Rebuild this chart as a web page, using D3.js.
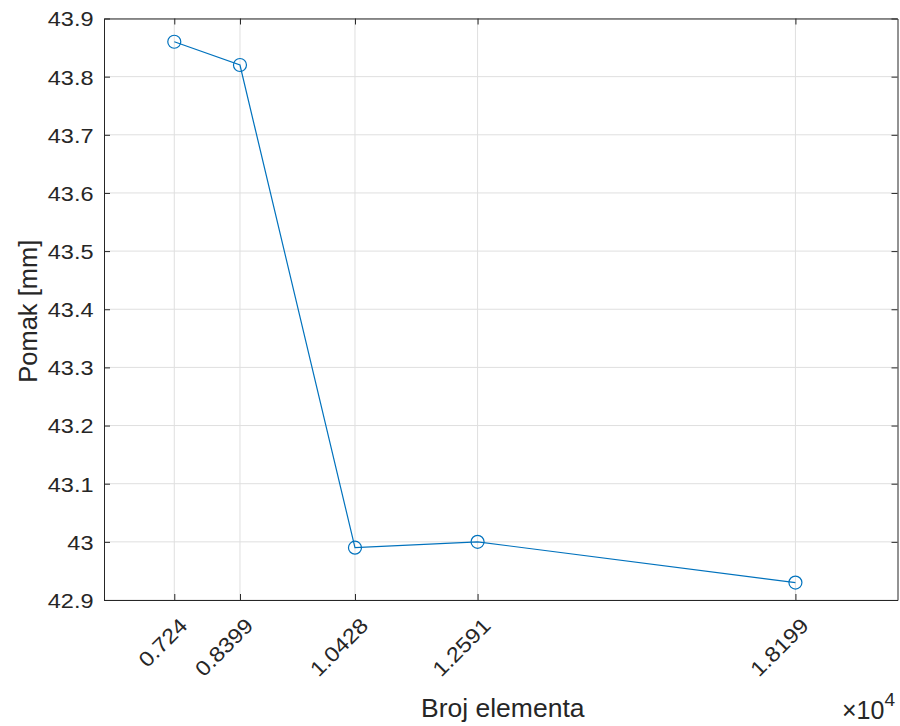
<!DOCTYPE html>
<html>
<head>
<meta charset="utf-8">
<script src="https://cdn.jsdelivr.net/npm/d3@7"></script>
<style>
  body { margin: 0; background: #fff; }
  text { font-family: "Liberation Sans", Arial, sans-serif; fill: #262626; }
</style>
</head>
<body>
<div id="chart"></div>
<script>
// element counts (x 10^4) and displacement
var brojElementa = [0.724, 0.8399, 1.0428, 1.2591, 1.8199];
var pomak = [43.86, 43.82, 42.99, 43.00, 42.93];
var yTicks = [42.9, 43, 43.1, 43.2, 43.3, 43.4, 43.5, 43.6, 43.7, 43.8, 43.9];

var width = 900, height = 726;
var margin = { top: 18.5, right: 2.5, bottom: 126, left: 104 };
var iw = width - margin.left - margin.right;
var ih = height - margin.top - margin.bottom;
var stretch = 1.12; // matlab text renders a bit wider

var svg = d3.select("#chart").append("svg")
  .attr("width", width)
  .attr("height", height);

var g = svg.append("g")
  .attr("transform", "translate(" + margin.left + "," + margin.top + ")");

var x = d3.scaleLinear().domain([0.6, 2.0]).range([0, iw]);
var y = d3.scaleLinear().domain([42.9, 43.9]).range([ih, 0]);

// grid
g.append("g").selectAll("line").data(brojElementa).enter().append("line")
  .attr("x1", d => x(d)).attr("x2", d => x(d))
  .attr("y1", 0).attr("y2", ih)
  .attr("stroke", "#dfdfdf").attr("stroke-width", 1);
g.append("g").selectAll("line").data(yTicks).enter().append("line")
  .attr("x1", 0).attr("x2", iw)
  .attr("y1", d => y(d)).attr("y2", d => y(d))
  .attr("stroke", "#dfdfdf").attr("stroke-width", 1);

// axes
var xAxis = g.append("g")
  .attr("transform", "translate(0," + ih + ")")
  .call(d3.axisBottom(x).tickValues(brojElementa).tickSizeInner(-6).tickSizeOuter(0).tickFormat(d => String(d)));
var xTop = g.append("g")
  .call(d3.axisTop(x).tickValues(brojElementa).tickSizeInner(-6).tickSizeOuter(0).tickFormat(""));
var yAxis = g.append("g")
  .call(d3.axisLeft(y).tickValues(yTicks).tickSizeInner(-6).tickSizeOuter(0).tickFormat(d => d3.format("~g")(d)));
var yRight = g.append("g")
  .attr("transform", "translate(" + iw + ",0)")
  .call(d3.axisRight(y).tickValues(yTicks).tickSizeInner(-6).tickSizeOuter(0).tickFormat(""));

[xAxis, xTop, yAxis, yRight].forEach(function (a) {
  a.select(".domain").attr("stroke", "#262626").attr("stroke-width", 1);
  a.selectAll(".tick line").attr("stroke", "#262626");
});

yAxis.selectAll("text")
  .attr("x", 0)
  .attr("dy", "0.35em")
  .attr("transform", "translate(-10.5,0) scale(" + stretch + ",1)")
  .style("font-size", "21px")
  .attr("fill", "#262626");

xAxis.selectAll("text")
  .attr("y", 0).attr("dy", 0)
  .attr("text-anchor", "end")
  .attr("transform", "translate(14,27) rotate(-45) scale(" + stretch + ",1)")
  .style("font-size", "21px")
  .attr("fill", "#262626");

// line and markers
var line = d3.line().x((d, i) => x(brojElementa[i])).y(d => y(d));
g.append("path").datum(pomak)
  .attr("d", line)
  .attr("fill", "none")
  .attr("stroke", "#0072BD")
  .attr("stroke-width", 1.2);

g.selectAll("circle.m").data(pomak).enter().append("circle")
  .attr("class", "m")
  .attr("cx", (d, i) => x(brojElementa[i]))
  .attr("cy", d => y(d))
  .attr("r", 6.5)
  .attr("fill", "none")
  .attr("stroke", "#0072BD")
  .attr("stroke-width", 1.2);

// labels
var cx = margin.left + iw / 2 + 2;
svg.append("text")
  .attr("x", cx)
  .attr("y", 717)
  .attr("text-anchor", "middle")
  .attr("transform", "translate(" + cx + ",0) scale(1.04,1) translate(" + -cx + ",0)")
  .style("font-size", "25.5px")
  .text("Broj elementa");

svg.append("text")
  .attr("transform", "translate(37," + (margin.top + ih / 2 + 2) + ") rotate(-90)")
  .attr("text-anchor", "middle")
  .style("font-size", "25.5px")
  .text("Pomak [mm]");

var exp = svg.append("text")
  .attr("x", 842)
  .attr("y", 719)
  .style("font-size", "25px");
exp.append("tspan").text("\u00d710");
exp.append("tspan").attr("dy", -13).style("font-size", "19px").text("4");
</script>
</body>
</html>
